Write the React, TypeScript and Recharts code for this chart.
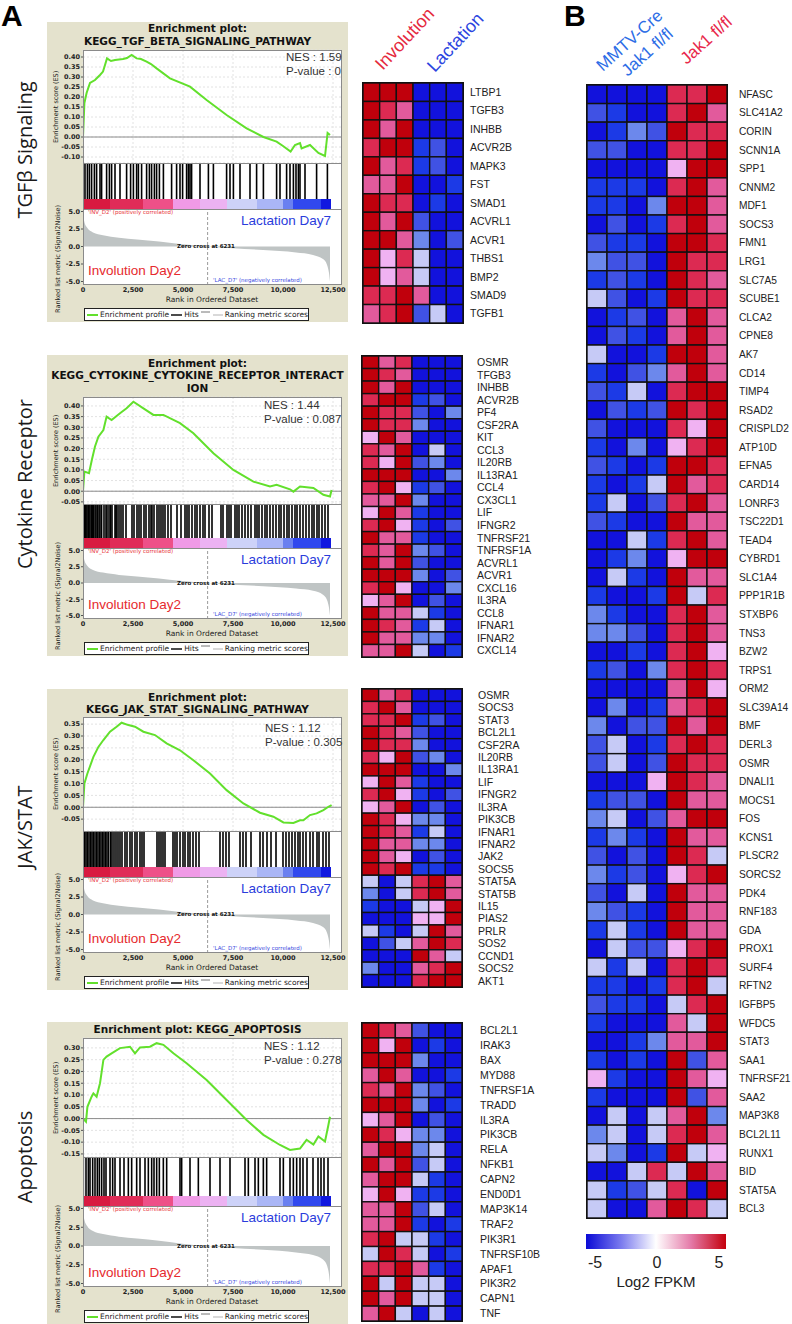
import React from 'react';
import {
  ComposedChart, Line, Area, XAxis, YAxis, CartesianGrid, ReferenceLine, ReferenceArea,
  ScatterChart, Scatter,
} from 'recharts';

// ---------- GSEA data ----------
const rankTicks = [0, 2500, 5000, 7500, 10000, 12500];
const metricTicks = [-5, -2.5, 0, 2.5, 5];
const zeroCross = 6231;

const rankedMetric = [
  [0, 4.6], [60, 3.6], [200, 2.7], [500, 2.0], [1000, 1.6], [1800, 1.25], [2700, 1.0], [3800, 0.7],
  [4850, 0.35], [6231, 0], [7500, -0.25], [9000, -0.5], [10650, -0.85], [11500, -1.2], [12000, -1.8],
  [12200, -2.6], [12300, -3.8], [12350, -5.0],
];

const barEdges = [0, 1350, 3000, 4500, 5850, 7200, 8700, 10000, 10500, 11900, 12400];
const barColors = ['#d81a40', '#e02c58', '#ee5088', '#f09ae6', '#ecb2f2', '#cdd2f8', '#aab6f6', '#6a80f0', '#3048ee', '#1018e0'];

const tgfEs = [
  [0, 0], [70, 0.17], [180, 0.22], [350, 0.27], [600, 0.285], [850, 0.31], [1000, 0.327], [1100, 0.36],
  [1200, 0.393], [1400, 0.38], [1600, 0.385], [2000, 0.39], [2200, 0.395], [2430, 0.41], [2680, 0.393],
  [2900, 0.39], [3180, 0.377], [3400, 0.365], [3680, 0.343], [4350, 0.293], [5350, 0.252], [6180, 0.185],
  [7180, 0.11], [8180, 0.043], [9020, 0.0], [9680, -0.023], [10000, -0.045], [10380, -0.073], [10600, -0.04],
  [10850, -0.03], [10930, -0.057], [11350, -0.04], [11770, -0.08], [12100, -0.095], [12230, 0.02], [12350, 0.01],
];
const tgfHits = [
  20, 100, 220, 320, 430, 570, 680, 850, 930, 1180, 1320, 1430, 1600, 1850, 2180, 2380, 2520, 2680, 2770,
  2930, 3180, 3320, 3430, 3570, 3680, 3820, 4020, 4430, 4680, 4850, 4980, 5180, 5270, 5350, 5430, 5850, 6270,
  6520, 7180, 7350, 7520, 7850, 8350, 8680, 9020, 9680, 9850, 10180, 10350, 10520, 10650, 10770, 10850,
  11100, 11680, 12220,
];

const cytoEs = [
  [0, 0], [70, 0.092], [300, 0.085], [450, 0.15], [600, 0.21], [770, 0.256], [1020, 0.287], [1180, 0.35],
  [1430, 0.334], [1850, 0.366], [2180, 0.389], [2520, 0.42], [3020, 0.389], [3520, 0.358], [4020, 0.358],
  [4850, 0.319], [5520, 0.272], [6520, 0.178], [7520, 0.1], [8520, 0.045], [9350, 0.022], [9680, 0.03],
  [10350, 0.009], [10520, -0.002], [10850, 0.022], [11520, 0.015], [12020, -0.017], [12350, -0.025], [12430, 0.006],
];
const cytoHits = [
  20, 60, 110, 150, 200, 260, 300, 350, 420, 480, 520, 600, 650, 720, 800, 850, 930, 1050, 1150, 1200, 1300,
  1380, 1450, 1600, 1650, 1700, 1800, 1900, 2000, 2150, 2450, 2550, 2700, 2800, 2900, 3050, 3150, 3300, 3400,
  3450, 3550, 3700, 3800, 3900, 4000, 4100, 4250, 4400, 4700, 4900, 5100, 5200, 5300, 5450, 5600, 5700, 5850,
  6000, 6100, 6300, 6450, 6900, 7000, 7200, 7300, 7400, 7600, 7700, 7800, 7950, 8100, 8250, 8400, 8600, 8700,
  8800, 8950, 9100, 9200, 9350, 9500, 9650, 9800, 9900, 10050, 10200, 10300, 10450, 10600, 10700, 10850,
  11000, 11150, 11300, 11450, 11550, 11700, 11800, 11950, 12100, 12250,
];

const jakEs = [
  [0, 0], [70, 0.1], [220, 0.142], [520, 0.212], [770, 0.254], [1020, 0.283], [1350, 0.318], [1680, 0.339],
  [1930, 0.356], [2270, 0.346], [2600, 0.339], [3020, 0.318], [3600, 0.304], [4180, 0.269], [4850, 0.24],
  [5520, 0.198], [6350, 0.142], [7180, 0.072], [8020, 0.016], [8850, -0.023], [9520, -0.04], [10020, -0.064],
  [10520, -0.066], [10850, -0.055], [11020, -0.055], [11350, -0.033], [11680, -0.026], [12020, -0.012],
  [12270, 0.002], [12430, 0.009],
];
const jakHits = [
  20, 80, 150, 220, 300, 380, 450, 520, 600, 680, 750, 830, 900, 980, 1050, 1130, 1200, 1280, 1380, 1450,
  1550, 1650, 1750, 1850, 1950, 2100, 2200, 2350, 2450, 2600, 2700, 2850, 2950, 3050, 3700, 3800, 3900, 4000,
  4100, 4500, 4600, 4700, 4850, 5000, 5100, 5250, 5350, 5500, 5650, 5800, 6850, 7000, 7150, 7300, 7850, 8000,
  8150, 8400, 8850, 9000, 9200, 9400, 9650, 10000, 10150, 10300, 10450, 10600, 10750, 10850, 11000, 11150,
  11350, 11500, 11700, 11800, 12000, 12150, 12300,
];

const apopEs = [
  [0, 0], [150, -0.013], [220, 0.05], [430, 0.093], [520, 0.107], [680, 0.093], [850, 0.15], [1020, 0.249],
  [1180, 0.263], [1430, 0.277], [1850, 0.299], [2350, 0.305], [2600, 0.277], [2850, 0.302], [3350, 0.305],
  [3680, 0.32], [4020, 0.313], [4520, 0.277], [5180, 0.235], [6180, 0.164], [7180, 0.079], [8180, -0.006],
  [9020, -0.069], [9850, -0.112], [10350, -0.133], [10850, -0.127], [11180, -0.09], [11520, -0.11],
  [11770, -0.076], [12100, -0.097], [12270, -0.027], [12350, 0.008],
];
const apopHits = [
  17, 150, 267, 350, 483, 600, 717, 817, 933, 1050, 1150, 1350, 1483, 1600, 1850, 2050, 2267, 2433, 2683,
  2850, 3100, 3267, 3433, 3550, 3683, 3817, 4017, 4183, 4850, 4933, 5350, 5767, 6350, 6850, 7350, 8100, 8267,
  8600, 8767, 9017, 9183, 9850, 10017, 10350, 10517, 10683, 10850, 11000, 11200, 11500, 11750, 11900, 12050, 12250,
];

// ---------- heatmap data (Log2 FPKM levels, -5..5) ----------
const tgfGenes = ['LTBP1', 'TGFB3', 'INHBB', 'ACVR2B', 'MAPK3', 'FST', 'SMAD1', 'ACVRL1', 'ACVR1', 'THBS1', 'BMP2', 'SMAD9', 'TGFB1'];
const tgfHeat = [
  [5, 5, 5, -5, -5, -5], [5, 4, 3, -5, -5, -5], [5, 3, 5, -5, -5, -5], [4, 5, 5, -4, -3, -5],
  [5, 3, 4, -4, -3, -5], [3, 3, 5, -5, -5, -4], [5, 4, 4, -5, -4, -5], [5, 3, 5, -3, -5, -5],
  [5, 5, 3, -2, -5, -3], [5, 2, 4, -1, -5, -5], [5, 2, 3, -1, -5, -5], [4, 4, 5, 3, -5, -5],
  [3, 4, 5, -3, -1, -5],
];

const cytoGenes = ['OSMR', 'TFGB3', 'INHBB', 'ACVR2B', 'PF4', 'CSF2RA', 'KIT', 'CCL3', 'IL20RB', 'IL13RA1', 'CCL4', 'CX3CL1', 'LIF', 'IFNGR2', 'TNFRSF21', 'TNFRSF1A', 'ACVRL1', 'ACVR1', 'CXCL16', 'IL3RA', 'CCL8', 'IFNAR1', 'IFNAR2', 'CXCL14'];
const cytoHeat = [
  [5, 3, 4, -5, -5, -5], [5, 4, 3, -5, -5, -5], [5, 3, 5, -5, -5, -5], [4, 5, 5, -4, -3, -5],
  [5, 4, 4, -3, -5, -2], [5, 4, 4, -2, -5, -5], [2, 5, 3, -5, -5, -5], [4, 3, 5, -5, -1, -5],
  [4, 2, 5, -3, -2, -5], [5, 5, 5, -5, -5, -2], [4, 5, 2, -4, -3, -5], [3, 3, 5, -2, -5, -5],
  [2, 5, 3, -4, -5, -5], [4, 5, 2, -4, -5, -3], [5, 3, 3, -4, -5, -5], [4, 3, 5, -2, -3, -5],
  [5, 3, 5, -3, -5, -5], [5, 5, 5, -2, -5, -3], [4, 5, 2, -5, -5, -2], [2, 3, 5, -5, -3, -5],
  [5, 3, 3, -1, -4, -5], [5, 4, 3, -4, -1, -5], [5, 3, 3, -2, -2, -5], [3, 3, 5, -1, -5, -4],
];

const jakGenes = ['OSMR', 'SOCS3', 'STAT3', 'BCL2L1', 'CSF2RA', 'IL20RB', 'IL13RA1', 'LIF', 'IFNGR2', 'IL3RA', 'PIK3CB', 'IFNAR1', 'IFNAR2', 'JAK2', 'SOCS5', 'STAT5A', 'STAT5B', 'IL15', 'PIAS2', 'PRLR', 'SOS2', 'CCND1', 'SOCS2', 'AKT1'];
const jakHeat = [
  [5, 3, 4, -5, -5, -5], [4, 5, 3, -5, -5, -5], [4, 4, 5, -4, -3, -5], [5, 4, 3, -3, -5, -5],
  [5, 4, 4, -2, -5, -5], [4, 2, 5, -3, -2, -5], [5, 5, 5, -5, -5, -2], [2, 5, 3, -4, -5, -5],
  [4, 5, 2, -4, -5, -3], [2, 3, 5, -5, -3, -5], [5, 4, 2, -2, -2, -5], [5, 4, 3, -4, -1, -5],
  [5, 3, 3, -2, -2, -5], [5, 3, 2, -5, -3, -5], [5, 4, 5, -4, -4, -5], [-1, -5, -1, 4, 5, 3],
  [-2, -5, -1, 4, 5, 3], [-4, -5, -5, -1, 2, 5], [-5, -5, -5, 2, 2, 5], [-1, -4, -5, -1, 5, 3],
  [-5, -3, -1, 3, 5, 4], [-5, -5, -5, 5, 3, -1], [-2, -5, -5, 3, 4, 5], [-5, -5, -5, 4, 5, 5],
];

const apopGenes = ['BCL2L1', 'IRAK3', 'BAX', 'MYD88', 'TNFRSF1A', 'TRADD', 'IL3RA', 'PIK3CB', 'RELA', 'NFKB1', 'CAPN2', 'END0D1', 'MAP3K14', 'TRAF2', 'PIK3R1', 'TNFRSF10B', 'APAF1', 'PIK3R2', 'CAPN1', 'TNF'];
const apopHeat = [
  [5, 4, 3, -3, -5, -5], [5, 2, 5, -5, -4, -5], [5, 5, 5, -2, -5, -5], [3, 5, 3, -5, -5, -4],
  [4, 3, 5, -2, -3, -5], [5, 5, 5, -2, -5, -4], [2, 3, 5, -5, -3, -5], [5, 4, 2, -2, -2, -5],
  [3, 5, 5, -2, -1, -5], [5, 3, 5, -3, -1, -5], [3, 5, 5, -1, -4, -5], [2, 5, 2, -4, -4, -5],
  [3, 3, 5, -3, -1, -5], [3, 3, 5, -4, -5, -4], [4, 5, -1, -1, -4, -5], [-1, 5, 4, -1, -5, -4],
  [4, 4, 5, 3, -4, -5], [5, -1, 5, -1, -1, -5], [5, 3, 5, -1, -1, -5], [3, 5, -1, -5, -1, -5],
];

const jak1Genes = [
  'NFASC', 'SLC41A2', 'CORIN', 'SCNN1A', 'SPP1', 'CNNM2', 'MDF1', 'SOCS3', 'FMN1', 'LRG1', 'SLC7A5', 'SCUBE1',
  'CLCA2', 'CPNE8', 'AK7', 'CD14', 'TIMP4', 'RSAD2', 'CRISPLD2', 'ATP10D', 'EFNA5', 'CARD14', 'LONRF3',
  'TSC22D1', 'TEAD4', 'CYBRD1', 'SLC1A4', 'PPP1R1B', 'STXBP6', 'TNS3', 'BZW2', 'TRPS1', 'ORM2', 'SLC39A14',
  'BMF', 'DERL3', 'OSMR', 'DNALI1', 'MOCS1', 'FOS', 'KCNS1', 'PLSCR2', 'SORCS2', 'PDK4', 'RNF183', 'GDA',
  'PROX1', 'SURF4', 'RFTN2', 'IGFBP5', 'WFDC5', 'STAT3', 'SAA1', 'TNFRSF21', 'SAA2', 'MAP3K8', 'BCL2L11',
  'RUNX1', 'BID', 'STAT5A', 'BCL3',
];
const jak1Heat = [
  [-5, -5, -5, -5, 4, 4, 5], [-3, -4, -5, -5, 4, 5, 3], [-5, -4, -2, -3, 5, 4, 4], [-3, -3, -5, -5, 4, 4, 5],
  [-5, -5, -5, -5, 2, 5, 5], [-4, -4, -4, -5, 4, 5, 3], [-4, -4, -5, -2, 5, 5, 3], [-5, -3, -5, -4, 4, 5, 3],
  [-3, -4, -4, -5, 5, 5, 4], [-2, -3, -3, -5, 5, 4, 4], [-4, -3, -4, -5, 5, 4, 3], [-1, -3, -5, -4, 5, 4, 4],
  [-5, -4, -3, -5, 3, 5, 3], [-5, -3, -4, -5, 3, 5, 3], [-1, -5, -5, -4, 5, 5, 3], [-4, -5, -3, -2, 3, 5, 3],
  [-3, -4, -1, -5, 4, 5, 5], [-5, -3, -4, -3, 5, 4, 5], [-3, -5, -5, -5, 4, 2, 5], [-4, -5, -2, -5, 2, 4, 5],
  [-3, -4, -5, -4, 5, 5, 4], [-4, -5, -4, -1, 5, 3, 4], [-4, -1, -5, -3, 4, 5, 3], [-3, -4, -5, -5, 5, 3, 3],
  [-5, -5, -1, -4, 4, 5, 3], [-5, -4, -2, -5, 2, 5, 5], [-5, -1, -4, -5, 5, 3, 3], [-4, -5, -5, -4, 5, -1, 4],
  [-2, -4, -5, -5, 4, 5, 3], [-2, -2, -3, -5, 4, 5, 3], [-5, -5, -4, -5, 4, 5, 2], [-4, -3, -5, -2, 4, 5, 4],
  [-5, -5, -5, -5, 3, 5, 2], [-5, -2, -5, -4, 3, 4, 5], [-2, -5, -3, -3, 5, 3, 5], [-3, -1, -5, -4, 4, 5, 4],
  [-3, -1, -5, -3, 5, 4, 4], [-5, -5, -5, 2, 5, 4, 3], [-4, -3, -3, -5, 5, 3, 3], [-2, -1, -5, -3, 3, 5, 5],
  [-4, -2, -4, -5, 5, 3, 3], [-3, -5, -3, -5, 5, 4, -1], [-2, -4, -3, -5, 2, 4, 5], [-3, -5, -1, -5, 5, 3, 3],
  [-2, -3, -4, -5, 5, 3, 3], [-4, -1, -4, -5, 5, 3, 3], [-5, -1, -3, -3, 2, 4, 5], [-1, -4, -1, -5, 4, 5, 4],
  [-4, -4, -5, -4, 4, 5, -1], [-3, -4, -4, -5, -1, 4, 5], [-4, -5, -5, -5, 3, -1, 5], [-5, -5, -4, -2, 3, 3, 5],
  [-4, -5, -4, -5, 5, -3, 3], [2, -4, -5, -5, 5, 3, 2], [-4, -5, -5, -5, 5, -3, 3], [-5, -1, -5, -1, 3, 5, -2],
  [-2, -1, -5, -1, 4, 5, 3], [-1, -2, -5, -4, 5, -1, 2], [-5, -5, -1, 4, -1, 5, 3], [-1, -4, -3, -1, 4, -5, 5],
  [-1, -5, -5, 3, 5, 4, -1],
];
const fpkmTicks = [-5, 0, 5];

// ---------- styles ----------
const levelColor: Record<string, string> = {
  '5': '#c0000c', '4': '#dc2a52', '3': '#e25a9c', '2': '#f0b2f2', '1': '#f6dcf6', '0': '#ffffff',
  '-1': '#c6caf6', '-2': '#6c88ec', '-3': '#4052e4', '-4': '#1c3ae6', '-5': '#1212dc',
};
const BEIGE = '#e4e2cd';
const GREEN = '#62e02c';
const SANS = '"Liberation Sans", Arial, sans-serif';
const DJ = '"DejaVu Sans", sans-serif';
const PL = 83;
const PR = 342;
const RMAX = 12950;
const tickFont = { fontSize: 6.5, fill: '#222', fontFamily: DJ, fontWeight: 700 };
const M0 = { top: 0, right: 0, bottom: 0, left: 0 };
const PAD = 6;

const abs = (s: any) => ({ position: 'absolute', ...s });

function Txt({ x, y, size, color = '#222', anchor = 'start', family = SANS, weight = 400, children }: any) {
  const w = 400;
  const left = anchor === 'start' ? x : anchor === 'middle' ? x - w / 2 : x - w;
  return (
    <div style={abs({ left, top: y - size * 0.6, width: w, height: size * 1.2, lineHeight: `${size * 1.2}px`,
      fontSize: size, color, fontFamily: family, fontWeight: weight, whiteSpace: 'nowrap',
      textAlign: anchor === 'start' ? 'left' : anchor === 'middle' ? 'center' : 'right' })}>
      {children}
    </div>
  );
}

function VText({ cx, cy, size, color = '#222', family = SANS, weight = 400, children }: any) {
  const w = 300;
  return (
    <div style={abs({ left: cx - w / 2, top: cy - size * 0.6, width: w, height: size * 1.2, lineHeight: `${size * 1.2}px`,
      fontSize: size, color, fontFamily: family, fontWeight: weight, textAlign: 'center', whiteSpace: 'nowrap',
      transform: 'rotate(-90deg)', transformOrigin: 'center' })}>
      {children}
    </div>
  );
}

function Rot({ x, y, size, color, angle, children }: any) {
  const base = size * 0.85;
  return (
    <div style={abs({ left: x, top: y - base, fontSize: size, lineHeight: `${size}px`, color, fontFamily: SANS,
      whiteSpace: 'nowrap', transform: `rotate(${angle}deg)`, transformOrigin: `0 ${base}px` })}>
      {children}
    </div>
  );
}

type Panel = {
  top: number; titles: string[]; titleY: number[]; esTop: number; esBottom: number; hitsBottom: number;
  cbBottom: number; rankBottom: number; esDomain: number[]; esTicks: number[]; nes: string; pval: string;
  nesX: number; nesY: number;
};

function Gsea({ p, es, hits }: { p: Panel; es: number[][]; hits: number[] }) {
  const esData = es.map(([r, v]) => ({ r, v }));
  const hitData = hits.map((r) => ({ r, y: 0.5 }));
  const cbData = barEdges.map((r) => ({ r, y: 0.5 }));
  const rankData = rankedMetric.map(([r, v]) => ({ r, v }));
  const hh = p.hitsBottom - p.esBottom;
  const rh = p.rankBottom - p.cbBottom;
  const ppu = (rh - 6) / 10;
  const rankDomain = [-5 - 3.5 / ppu, 5 + 2.5 / ppu];
  const zeroY = p.cbBottom + rankDomain[1] * ppu;
  const boxBottom = p.rankBottom + 37;
  return (
    <>
      <div style={abs({ left: 47, top: p.top, width: 301, height: boxBottom - p.top, background: BEIGE })} />
      {p.titles.map((t, i) => (
        <Txt key={t} x={197.5} y={p.titleY[i]} size={10.5} anchor="middle" family={DJ} weight={700} color="#111">{t}</Txt>
      ))}
      <div style={abs({ left: PL, top: p.esTop, width: PR - PL, height: p.rankBottom - p.esTop, background: '#fff' })} />

      <div style={abs({ left: 50, top: p.esTop - PAD })}>
        <ComposedChart width={PR - 50} height={p.esBottom - p.esTop + 2 * PAD} data={esData}
          margin={{ top: PAD, right: 0, bottom: PAD, left: 0 }}>
          <CartesianGrid stroke="#e2e2e2" strokeDasharray="2 2" />
          <XAxis type="number" dataKey="r" domain={[0, RMAX]} ticks={rankTicks} hide allowDataOverflow />
          <YAxis type="number" domain={p.esDomain} ticks={p.esTicks} interval={0} width={33} allowDataOverflow
            tickFormatter={(v: number) => v.toFixed(2)} tick={tickFont} tickSize={2} tickMargin={1}
            axisLine={false} tickLine={{ stroke: '#555' }} />
          <ReferenceLine y={0} stroke="#8c8c8c" />
          <Line dataKey="v" type="linear" stroke={GREEN} strokeWidth={2} dot={false} isAnimationActive={false} />
        </ComposedChart>
      </div>

      <div style={abs({ left: PL, top: p.esBottom })}>
        <ScatterChart width={PR - PL} height={hh} margin={M0}>
          <XAxis type="number" dataKey="r" domain={[0, RMAX]} hide allowDataOverflow />
          <YAxis type="number" dataKey="y" domain={[0, 1]} hide />
          <Scatter data={hitData} isAnimationActive={false}
            shape={(s: any) => <line x1={s.cx} x2={s.cx} y1={s.cy - hh / 2} y2={s.cy + hh / 2} stroke="#000" strokeWidth={1.6} />} />
        </ScatterChart>
      </div>

      <div style={abs({ left: PL, top: p.hitsBottom })}>
        <ComposedChart width={PR - PL} height={p.cbBottom - p.hitsBottom} data={cbData} margin={M0}>
          <XAxis type="number" dataKey="r" domain={[0, RMAX]} hide allowDataOverflow />
          <YAxis type="number" domain={[0, 1]} hide />
          <Line dataKey="y" stroke="none" dot={false} isAnimationActive={false} />
          {barColors.map((c, i) => (
            <ReferenceArea key={c} x1={barEdges[i]} x2={barEdges[i + 1]} y1={0} y2={1} fill={c} fillOpacity={1} stroke="none" />
          ))}
        </ComposedChart>
      </div>

      <div style={abs({ left: 50, top: p.cbBottom - PAD })}>
        <ComposedChart width={PR - 50 + 12} height={rh + 12 + PAD} data={rankData} margin={{ top: PAD, right: 12, bottom: 0, left: 0 }}>
          <XAxis type="number" dataKey="r" domain={[0, RMAX]} ticks={rankTicks} interval={0} height={12}
            allowDataOverflow tickFormatter={(v: number) => v.toLocaleString('en-US')} tick={tickFont}
            tickSize={0} tickMargin={2} axisLine={false} />
          <YAxis type="number" domain={rankDomain} ticks={metricTicks} interval={0} width={33} allowDataOverflow
            tickFormatter={(v: number) => v.toFixed(1)} tick={tickFont} tickSize={2} tickMargin={1}
            axisLine={false} tickLine={{ stroke: '#555' }} />
          <Area dataKey="v" type="monotone" fill="#bfc4c4" fillOpacity={1} stroke="none" baseValue={0} isAnimationActive={false} />
          <ReferenceLine x={zeroCross} stroke="#9a9a9a" strokeDasharray="3 2" />
        </ComposedChart>
      </div>

      <div style={abs({ left: PL, top: p.esTop, width: PR - PL, height: p.rankBottom - p.esTop, border: '1px solid #8a8a8a', boxSizing: 'border-box' })} />
      <div style={abs({ left: PL, top: p.esBottom, width: PR - PL, height: 1, background: '#8a8a8a' })} />
      <div style={abs({ left: PL, top: p.cbBottom, width: PR - PL, height: 1, background: '#8a8a8a' })} />

      <Txt x={p.nesX} y={p.nesY} size={11.5} color="#333">NES : {p.nes}</Txt>
      <Txt x={p.nesX} y={p.nesY + 13.5} size={11.5} color="#333">P-value : {p.pval}</Txt>

      <VText cx={57} cy={(p.esTop + p.esBottom) / 2} size={6.5} family={DJ} color="#222">Enrichment score (ES)</VText>
      <VText cx={59} cy={(p.cbBottom + p.rankBottom) / 2 + 12} size={6.5} family={DJ} color="#222">Ranked list metric (Signal2Noise)</VText>

      <Txt x={88} y={p.cbBottom + 3.5} size={5.5} family={DJ} color="#e8363c">'INV_D2' (positively correlated)</Txt>
      <Txt x={206} y={zeroY} size={5.5} family={DJ} weight={700} color="#111" anchor="middle">Zero cross at 6231</Txt>
      <Txt x={213} y={p.rankBottom - 5} size={5.5} family={DJ} color="#3a4ae0">'LAC_D7' (negatively correlated)</Txt>
      <Txt x={241} y={p.cbBottom + 12} size={13.5} color="#2a3cdc">Lactation Day7</Txt>
      <Txt x={88} y={p.rankBottom - 14} size={13.5} color="#e62a2e">Involution Day2</Txt>

      <Txt x={212} y={p.rankBottom + 14} size={7.5} family={DJ} anchor="middle" color="#222">Rank in Ordered Dataset</Txt>
      <div style={abs({ left: 84, top: p.rankBottom + 23, width: 225, height: 13, border: '1px solid #222',
        background: '#fff', boxSizing: 'border-box', display: 'flex', alignItems: 'center', gap: 2, paddingLeft: 2,
        fontSize: 7.5, fontFamily: DJ, color: '#222', whiteSpace: 'nowrap' })}>
        <svg width={11} height={4}><line x1={0} x2={11} y1={2} y2={2} stroke={GREEN} strokeWidth={2} /></svg>
        <span>Enrichment profile</span>
        <svg width={11} height={4}><line x1={0} x2={11} y1={2} y2={2} stroke="#111" strokeWidth={1.5} /></svg>
        <span>Hits</span>
        <svg width={10} height={8}><line x1={0} x2={9} y1={1} y2={1} stroke="#777" strokeWidth={1} /></svg>
        <svg width={10} height={4}><line x1={0} x2={10} y1={2} y2={2} stroke="#ccc" strokeWidth={1.5} /></svg>
        <span>Ranking metric scores</span>
      </div>
    </>
  );
}

function Heatmap({ genes, values, left, top, width, height, gap, fontSize }: any) {
  const ncol = values[0].length;
  const nrow = genes.length;
  const cw = width / ncol;
  const ch = height / nrow;
  const labelW = 90;
  const data = values.flatMap((row: number[], r: number) => row.map((v, c) => ({ c, r, v })));
  return (
    <div style={abs({ left, top })}>
      <ScatterChart width={width + labelW} height={height} margin={M0}>
        <XAxis type="number" dataKey="c" domain={[-0.5, ncol - 0.5]} hide allowDataOverflow />
        <YAxis type="number" dataKey="r" domain={[-0.5, nrow - 0.5]} reversed orientation="right" width={labelW}
          allowDataOverflow ticks={genes.map((_: string, i: number) => i)} interval={0}
          tickFormatter={(i: number) => genes[i]} axisLine={false} tickLine={false} tickSize={0} tickMargin={gap}
          tick={{ fontSize, fill: '#222', fontFamily: SANS }} />
        <Scatter data={data} isAnimationActive={false}
          shape={(s: any) => (
            <rect x={s.cx - cw / 2} y={s.cy - ch / 2} width={cw} height={ch}
              fill={levelColor[String(s.payload.v)]} stroke="#111" strokeWidth={1.4} />
          )} />
      </ScatterChart>
      <div style={abs({ left: -1, top: -1, width: width + 2, height: height + 2, border: '1.5px solid #111', boxSizing: 'border-box' })} />
    </div>
  );
}

function FpkmBar() {
  return (
    <div style={abs({ left: 586, top: 1234 })}>
      <ComposedChart width={140} height={15 + 28} data={fpkmTicks.map((t) => ({ t, y: 0.5 }))} margin={M0}>
        <defs>
          <linearGradient id="fpkm" x1="0" x2="1" y1="0" y2="0">
            <stop offset="0%" stopColor="#0a0ad6" />
            <stop offset="25%" stopColor="#7a7aee" />
            <stop offset="50%" stopColor="#ffffff" />
            <stop offset="75%" stopColor="#e47aa8" />
            <stop offset="100%" stopColor="#c4000c" />
          </linearGradient>
        </defs>
        <XAxis type="number" dataKey="t" domain={[-5.73, 5.56]} ticks={fpkmTicks} interval={0} height={28}
          allowDataOverflow axisLine={false} tickLine={false} tickSize={0} tickMargin={8}
          tick={{ fontSize: 16, fill: '#222', fontFamily: SANS }} />
        <YAxis type="number" domain={[0, 1]} hide />
        <Line dataKey="y" stroke="none" dot={false} isAnimationActive={false} />
        <ReferenceArea x1={-5.73} x2={5.56} y1={0} y2={1} fill="url(#fpkm)" fillOpacity={1} stroke="none" />
      </ComposedChart>
    </div>
  );
}

const panels: Panel[] = [
  { top: 22, titles: ['Enrichment plot:', 'KEGG_TGF_BETA_SIGNALING_PATHWAY'], titleY: [28, 41], esTop: 50, esBottom: 163,
    hitsBottom: 199, cbBottom: 209, rankBottom: 285, esDomain: [-0.13, 0.435],
    esTicks: [-0.1, -0.05, 0, 0.05, 0.1, 0.15, 0.2, 0.25, 0.3, 0.35, 0.4], nes: '1.59', pval: '0', nesX: 286, nesY: 58 },
  { top: 355, titles: ['Enrichment plot:', 'KEGG_CYTOKINE_CYTOKINE_RECEPTOR_INTERACT', 'ION'], titleY: [363, 375, 388],
    esTop: 397, esBottom: 504, hitsBottom: 538, cbBottom: 548, rankBottom: 619, esDomain: [-0.06, 0.442],
    esTicks: [-0.05, 0, 0.05, 0.1, 0.15, 0.2, 0.25, 0.3, 0.35, 0.4], nes: '1.44', pval: '0.087', nesX: 264, nesY: 406 },
  { top: 689, titles: ['Enrichment plot:', 'KEGG_JAK_STAT_SIGNALING_PATHWAY'], titleY: [697, 709], esTop: 717, esBottom: 831,
    hitsBottom: 867, cbBottom: 877, rankBottom: 953, esDomain: [-0.1, 0.38],
    esTicks: [-0.05, 0, 0.05, 0.1, 0.15, 0.2, 0.25, 0.3, 0.35], nes: '1.12', pval: '0.305', nesX: 265, nesY: 729 },
  { top: 1022, titles: ['Enrichment plot: KEGG_APOPTOSIS'], titleY: [1029], esTop: 1038, esBottom: 1157,
    hitsBottom: 1196, cbBottom: 1206, rankBottom: 1287, esDomain: [-0.163, 0.342],
    esTicks: [-0.15, -0.1, -0.05, 0, 0.05, 0.1, 0.15, 0.2, 0.25, 0.3], nes: '1.12', pval: '0.278', nesX: 264, nesY: 1047 },
];

export default function App() {
  return (
    <div style={abs({ left: 0, top: 0, width: 792, height: 1324, background: '#fff', overflow: 'hidden', fontFamily: SANS })}>
      <Txt x={1} y={16} size={30} weight={700} family={SANS} color="#000">A</Txt>
      <Txt x={564} y={16} size={30} weight={700} family={SANS} color="#000">B</Txt>

      <VText cx={25} cy={150} size={20} family='"Open Sans", sans-serif' color="#1a1a1a">TGFβ Signaling</VText>
      <VText cx={25} cy={484} size={20} family='"Open Sans", sans-serif' color="#1a1a1a">Cytokine Receptor</VText>
      <VText cx={25} cy={827} size={20} family='"Open Sans", sans-serif' color="#1a1a1a">JAK/STAT</VText>
      <VText cx={25} cy={1157} size={20} family='"Open Sans", sans-serif' color="#1a1a1a">Apoptosis</VText>

      <Gsea p={panels[0]} es={tgfEs} hits={tgfHits} />
      <Gsea p={panels[1]} es={cytoEs} hits={cytoHits} />
      <Gsea p={panels[2]} es={jakEs} hits={jakHits} />
      <Gsea p={panels[3]} es={apopEs} hits={apopHits} />

      <Rot x={383} y={71} size={18} color="#e5293d" angle={-47}>Involution</Rot>
      <Rot x={435} y={73} size={18} color="#2b45e0" angle={-47}>Lactation</Rot>

      <Heatmap genes={tgfGenes} values={tgfHeat} left={363} top={83} width={100} height={240} gap={7} fontSize={10.5} />
      <Heatmap genes={cytoGenes} values={cytoHeat} left={362} top={356} width={100} height={301} gap={15} fontSize={10.5} />
      <Heatmap genes={jakGenes} values={jakHeat} left={362} top={689} width={100} height={298} gap={16} fontSize={10.5} />
      <Heatmap genes={apopGenes} values={apopHeat} left={362} top={1023} width={100} height={298} gap={18} fontSize={10.5} />

      <Rot x={603} y={72} size={17} color="#2d6de6" angle={-42}>MMTV-Cre</Rot>
      <Rot x={628} y={77} size={17} color="#2d6de6" angle={-42}>Jak1 fl/fl</Rot>
      <Rot x={687} y={65} size={17} color="#e8284a" angle={-42}>Jak1 fl/fl</Rot>

      <Heatmap genes={jak1Genes} values={jak1Heat} left={587} top={85} width={140} height={1133} gap={12} fontSize={10.2} />
      <FpkmBar />
      <Txt x={656} y={1282} size={15} anchor="middle" color="#222">Log2 FPKM</Txt>
    </div>
  );
}
